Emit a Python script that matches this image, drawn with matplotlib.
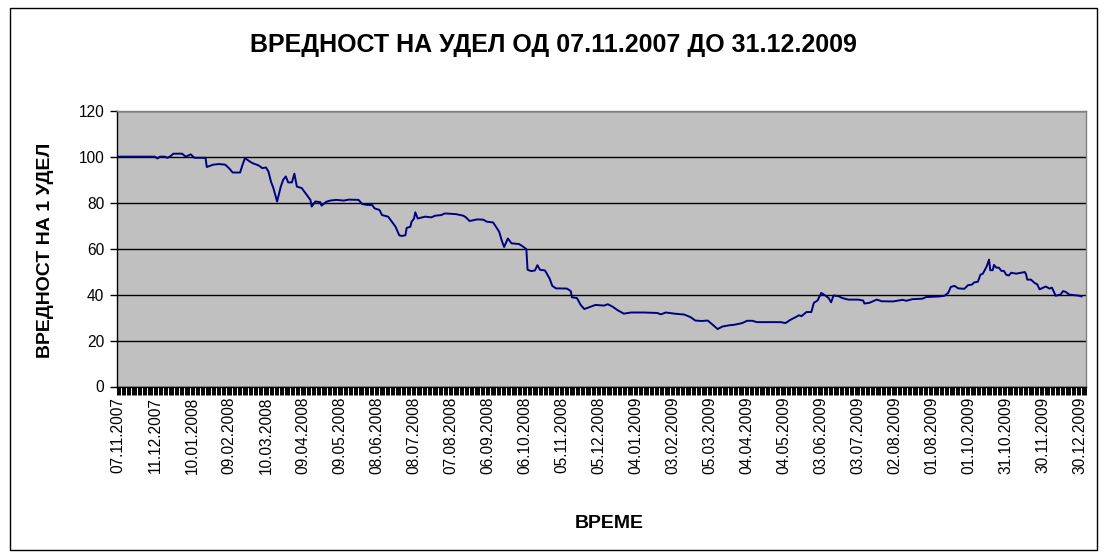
import matplotlib
matplotlib.use("Agg")
import matplotlib.pyplot as plt
from matplotlib.patches import Rectangle
from matplotlib.ticker import FixedLocator, MultipleLocator

plt.rcParams['font.family'] = ['Liberation Sans', 'DejaVu Sans']

# category index (trading-day position) and value per unit
day_index = [0, 30, 32, 34, 38, 40, 42, 45, 52, 55, 59, 62, 71, 72, 77, 82, 87, 90, 93, 99,
             101, 103, 106, 109, 114, 117, 120, 122, 124, 126, 129, 132, 134, 136, 138, 141, 143, 145, 149, 152,
             156, 157, 160, 164, 165, 169, 172, 177, 183, 187, 195, 198, 202, 206, 208, 212, 214, 219, 222, 225,
             228, 230, 233, 234, 237, 238, 240, 241, 243, 249, 254, 257, 262, 265, 274, 280, 282, 285, 291, 296,
             299, 304, 307, 309, 311, 313, 316, 319, 325, 328, 331, 332, 335, 338, 340, 342, 346, 347, 350, 352,
             355, 364, 367, 368, 372, 375, 378, 381, 383, 387, 394, 397, 401, 405, 410, 416, 426, 437, 440, 444,
             451, 459, 464, 468, 473, 478, 482, 486, 490, 495, 500, 506, 510, 514, 518, 537, 541, 545, 549, 552,
             554, 558, 562, 564, 567, 570, 573, 576, 578, 580, 584, 587, 592, 600, 604, 605, 609, 612, 615, 619,
             628, 636, 639, 644, 652, 655, 666, 670, 673, 675, 678, 681, 686, 689, 692, 694, 697, 699, 701, 704,
             706, 707, 709, 710, 712, 714, 716, 718, 720, 722, 724, 728, 735, 736, 737, 740, 743, 745, 747, 752,
             755, 757, 760, 764, 766, 768, 771, 779, 781]
unit_value = [100, 100, 99.2, 100, 100, 99.5, 100, 101.3, 101.3, 100, 101, 99.5, 99.5, 95.5, 96.5, 96.8, 96.5, 95, 93.1, 93.1,
              96.5, 99.4, 98.2, 97.2, 96.2, 95, 95.3, 93.5, 89.2, 86.3, 80.5, 87, 90, 91.4, 88.8, 88.8, 92.6, 87, 86.3, 84.1,
              81.2, 78.3, 80.5, 80.2, 78.7, 80.4, 80.9, 81.2, 80.9, 81.3, 81.2, 79.4, 79, 79, 77.5, 76.8, 74.6, 73.9, 71.7, 69.5,
              65.8, 65.5, 65.8, 69, 69.5, 71.7, 73.1, 75.8, 73.1, 73.9, 73.6, 74.3, 74.6, 75.3, 75, 74.3, 73.6, 72, 72.7, 72.6,
              71.7, 71.4, 69, 67.3, 63.6, 60.7, 64.4, 62.3, 62, 61, 59.8, 50.8, 50.2, 50.5, 52.8, 50.8, 50.5, 49.7, 46.8, 43.8,
              42.7, 42.6, 41.5, 38.8, 38.5, 35.5, 33.7, 34.3, 34.7, 35.5, 35.2, 35.8, 34.7, 33.2, 31.7, 32.2, 32.2, 32, 31.4, 32.2,
              31.7, 31.3, 30.2, 28.7, 28.5, 28.7, 26.9, 25, 26.1, 26.6, 26.9, 27.6, 28.6, 28.6, 28, 28, 27.6, 29, 30.1, 31,
              30.6, 32.4, 32.4, 36.4, 37.4, 40.7, 39.7, 38.5, 36.6, 39.6, 39.3, 38.5, 37.8, 37.8, 37.4, 36.1, 36.4, 37.1, 37.8, 37.1,
              37, 37.7, 37.3, 38, 38.2, 38.9, 39.2, 39.5, 40.8, 43.3, 43.8, 42.7, 42.5, 44.1, 44.3, 45.3, 45.6, 48.6, 49.1, 52.1,
              55.2, 50.6, 50.6, 52.9, 51.7, 51.7, 50.3, 50.3, 48.6, 48.3, 49.5, 49.1, 49.8, 48.8, 46.5, 46.5, 45, 44.5, 42.3, 43.5,
              42.6, 43, 39.5, 40, 41.5, 41.2, 40, 39.5, 39.2]

tick_labels = ["07.11.2007", "11.12.2007", "10.01.2008", "09.02.2008", "10.03.2008", "09.04.2008",
               "09.05.2008", "08.06.2008", "08.07.2008", "07.08.2008", "06.09.2008", "06.10.2008",
               "05.11.2008", "05.12.2008", "04.01.2009", "03.02.2009", "05.03.2009", "04.04.2009",
               "04.05.2009", "03.06.2009", "03.07.2009", "02.08.2009", "01.08.2009", "01.10.2009",
               "31.10.2009", "30.11.2009", "30.12.2009"]
tick_positions = [i * 30 for i in range(len(tick_labels))]

title = "ВРЕДНОСТ НА УДЕЛ ОД 07.11.2007 ДО 31.12.2009"
ylabel = "ВРЕДНОСТ НА 1 УДЕЛ"
xlabel = "ВРЕМЕ"

W, H = 1106, 559
fig = plt.figure(figsize=(W / 100, H / 100), dpi=100)
fig.patch.set_facecolor('white')

# outer chart border
fig.patches.append(Rectangle((10 / W, 1 - 550 / H), 1087 / W, 542 / H,
                             transform=fig.transFigure, fill=False,
                             edgecolor='black', linewidth=1.0))

left, right, top, bottom = 116.7, 1086.5, 110.7, 386.5
ax = fig.add_axes([left / W, 1 - bottom / H, (right - left) / W, (bottom - top) / H])
ax.set_facecolor('#C0C0C0')

ax.plot(day_index, unit_value, color='#000080', linewidth=1.4)

ax.set_xlim(-1, 785)
ax.set_ylim(0, 120)
ax.yaxis.set_major_locator(MultipleLocator(20))
ax.grid(axis='y', color='black', linewidth=1.0)
ax.set_axisbelow(True)

ax.xaxis.set_major_locator(FixedLocator(tick_positions))
ax.set_xticklabels(tick_labels, rotation=90, fontsize=11.2)
ax.xaxis.set_minor_locator(MultipleLocator(1))
ax.tick_params(axis='x', which='both', direction='out', length=6, width=0.7, color='black', pad=1.5)
ax.tick_params(axis='y', direction='out', length=5, width=1.0, labelsize=11.2, pad=4)

for s in ['left', 'bottom']:
    ax.spines[s].set_color('black')
    ax.spines[s].set_linewidth(1.0)
for s in ['top', 'right']:
    ax.spines[s].set_color('#808080')
    ax.spines[s].set_linewidth(1.0)

fig.text(0.5, 1 - 45 / H, title, ha='center', va='center', fontsize=18, fontweight='bold')
fig.text(46 / W, 1 - 250 / H, ylabel, ha='center', va='center', rotation=90,
         fontsize=14, fontweight='bold')
fig.text(609 / W, 1 - 523 / H, xlabel, ha='center', va='center', fontsize=14, fontweight='bold')

fig.savefig('out.png', dpi=100)
